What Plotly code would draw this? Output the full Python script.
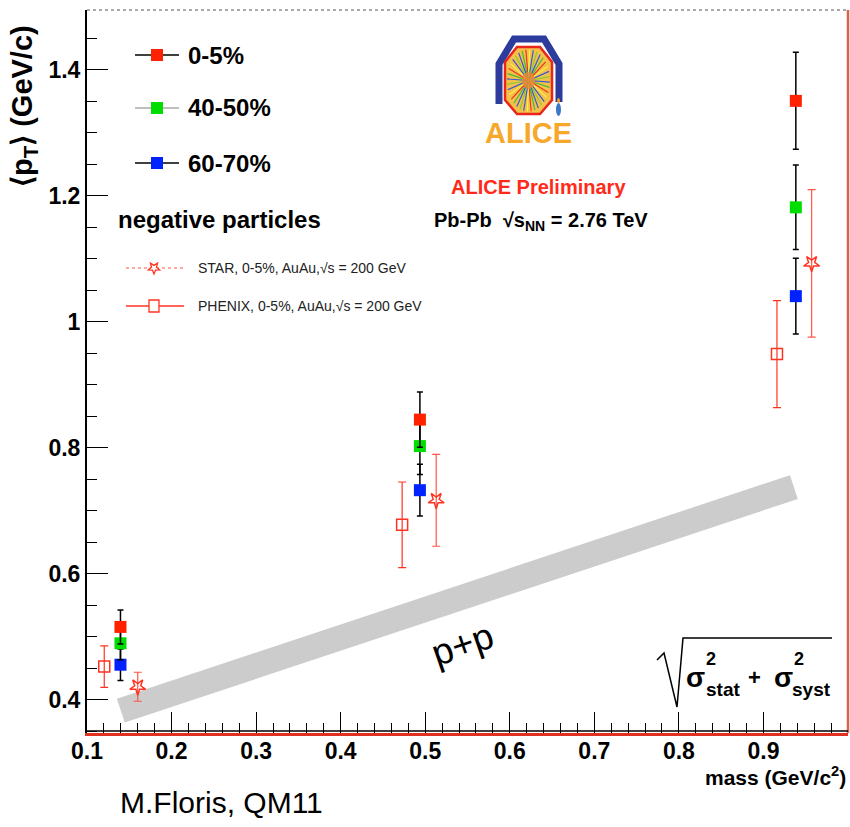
import math
import plotly.graph_objects as go

# ---------------- data ----------------
# particle masses (GeV/c^2): pi-, K-, pbar
alice_mass = [0.1396, 0.4937, 0.9383]

# ALICE Pb-Pb <pT> (GeV/c) per centrality class, with total uncertainty
pt_0_5 = [0.516, 0.845, 1.351]
err_0_5 = [0.027, 0.044, 0.077]
pt_40_50 = [0.490, 0.803, 1.182]
err_40_50 = [0.026, 0.045, 0.067]
pt_60_70 = [0.456, 0.733, 1.041]
err_60_70 = [0.025, 0.041, 0.060]

# RHIC Au-Au 0-5% references (plotted slightly displaced in mass)
phenix_mass = [0.1204, 0.4727, 0.916]
phenix_pt = [0.453, 0.678, 0.949]
phenix_err = [0.033, 0.068, 0.085]
star_mass = [0.160, 0.513, 0.957]
star_pt = [0.421, 0.717, 1.093]
star_err = [0.023, 0.073, 0.117]

# p+p band end points
pp_mass = [0.140, 0.936]
pp_pt = [0.383, 0.738]

x_ticks = [0.1, 0.2, 0.3, 0.4, 0.5, 0.6, 0.7, 0.8, 0.9, 1.0]
x_ticktext = ["0.1", "0.2", "0.3", "0.4", "0.5", "0.6", "0.7", "0.8", "0.9", "1"]
y_ticks = [0.4, 0.6, 0.8, 1.0, 1.2, 1.4]
y_ticktext = ["0.4", "0.6", "0.8", "1", "1.2", "1.4"]

# ---------------- style ----------------
W, H = 850, 827
L, R, T, B = 87, 2, 10, 94
BOLD = "Liberation Sans, Arial, Helvetica, sans-serif"
REG = "Liberation Sans, Arial, Helvetica, sans-serif"
RED, GREEN, BLUE = "#ff2200", "#00dd00", "#0022ff"


def px(x):
    return (x - L) / (W - L - R)


def py(y):
    return (H - B - y) / (H - T - B)


def poly(points, close=False):
    s = "M " + " L ".join(f"{px(a):.5f},{py(b):.5f}" for a, b in points)
    return s + (" Z" if close else "")


fig = go.Figure()

# p+p reference band
fig.add_trace(go.Scatter(x=pp_mass, y=pp_pt, mode="lines",
                         line=dict(color="#cccccc", width=25),
                         hoverinfo="skip", showlegend=False))

# RHIC points
fig.add_trace(go.Scatter(
    x=phenix_mass, y=phenix_pt, mode="markers",
    marker=dict(symbol="square-open", size=11, color="#ff3322",
                line=dict(width=1.5, color="#ff3322")),
    error_y=dict(type="data", array=phenix_err, color="#ff3322",
                 thickness=1.2, width=4),
    showlegend=False))
fig.add_trace(go.Scatter(
    x=star_mass, y=star_pt, mode="markers",
    marker=dict(symbol="star-open", angle=180, size=12, color="#ff3322",
                line=dict(width=1.5, color="#ff3322")),
    error_y=dict(type="data", array=star_err, color="#ff5544",
                 thickness=1.2, width=4),
    showlegend=False))

# ALICE points
for vals, errs, col in [(pt_60_70, err_60_70, BLUE),
                        (pt_40_50, err_40_50, GREEN),
                        (pt_0_5, err_0_5, RED)]:
    fig.add_trace(go.Scatter(
        x=alice_mass, y=vals, mode="markers",
        marker=dict(symbol="square", size=12, color=col),
        error_y=dict(type="data", array=errs, color="black",
                     thickness=1.5, width=3),
        showlegend=False))

shapes = []
ann = []

# frame: dotted top, red right, red+black bottom
shapes.append(dict(type="line", xref="paper", yref="paper", x0=0, x1=1, y0=1, y1=1,
                   line=dict(color="#aaaaaa", width=2, dash="dot")))
shapes.append(dict(type="line", xref="paper", yref="paper", x0=1, x1=1, y0=0, y1=1,
                   line=dict(color="#d9604a", width=2.5)))
shapes.append(dict(type="line", xref="paper", yref="paper", x0=0, x1=1,
                   y0=py(731), y1=py(731), line=dict(color="black", width=1.5)))

# ---------------- legend ----------------
leg_rows = [("0-5%", RED, "black", 55), ("40-50%", GREEN, "#aaaaaa", 108),
            ("60-70%", BLUE, "black", 163)]
for label, col, lcol, yy in leg_rows:
    shapes.append(dict(type="line", xref="paper", yref="paper",
                       x0=px(135), x1=px(179), y0=py(yy), y1=py(yy),
                       line=dict(color=lcol, width=1.5)))
    shapes.append(dict(type="rect", xref="paper", yref="paper",
                       x0=px(151), x1=px(163), y0=py(yy - 6), y1=py(yy + 6),
                       fillcolor=col, line=dict(width=0)))
    ann.append(dict(text=label, x=px(186), y=py(yy), xanchor="left", yanchor="middle",
                    font=dict(family=BOLD, size=24, color="black", weight="bold")))

ann.append(dict(text="negative particles", x=px(116), y=py(220), xanchor="left",
                yanchor="middle",
                font=dict(family=BOLD, size=24, color="black", weight="bold")))

# STAR legend entry
shapes.append(dict(type="line", xref="paper", yref="paper", x0=px(126), x1=px(184),
                   y0=py(268), y1=py(268), line=dict(color="#ff5544", width=1, dash="dot")))
cx, cy = 154, 268
pts = []
for k in range(10):
    r = 6 if k % 2 == 0 else 2.6
    a = math.pi / 2 + k * math.pi / 5
    pts.append((cx + r * math.cos(a), cy + r * math.sin(a)))
shapes.append(dict(type="path", xref="paper", yref="paper", path=poly(pts, True),
                   fillcolor="white", line=dict(color="#ff3322", width=1.3)))
ann.append(dict(text="STAR, 0-5%, AuAu,√s = 200 GeV", x=px(196), y=py(268),
                xanchor="left", yanchor="middle",
                font=dict(family=REG, size=14, color="#222222")))

# PHENIX legend entry
shapes.append(dict(type="line", xref="paper", yref="paper", x0=px(126), x1=px(184),
                   y0=py(306), y1=py(306), line=dict(color="#ff3322", width=1.5)))
shapes.append(dict(type="rect", xref="paper", yref="paper",
                   x0=px(149), x1=px(159), y0=py(300), y1=py(312),
                   fillcolor="white", line=dict(color="#ff3322", width=1.3)))
ann.append(dict(text="PHENIX, 0-5%, AuAu,√s = 200 GeV", x=px(196), y=py(306),
                xanchor="left", yanchor="middle",
                font=dict(family=REG, size=14, color="#222222")))

# ---------------- ALICE logo ----------------
frame = [(499, 104), (499, 64), (514, 39), (544, 39), (559, 64), (559, 102)]
shapes.append(dict(type="path", xref="paper", yref="paper", path=poly(frame),
                   line=dict(color="#2d3c9c", width=7)))
octo = [(517, 47), (540, 47), (552, 62), (552, 100), (540, 114), (517, 114), (505, 100), (505, 62)]
shapes.append(dict(type="path", xref="paper", yref="paper", path=poly(octo, True),
                   fillcolor="#f3c04a", line=dict(width=0)))
ray_cols = ["#3355dd", "#44bb33", "#ee3322", "#ffee44", "#3355dd", "#88cc33"]
ocx, ocy = 528.5, 80.5
for k in range(36):
    a = 2 * math.pi * k / 36 + 0.05
    ex, ey = ocx + 21.5 * math.cos(a), ocy + 31 * math.sin(a)
    shapes.append(dict(type="line", xref="paper", yref="paper",
                       x0=px(ocx), y0=py(ocy), x1=px(ex), y1=py(ey),
                       line=dict(color=ray_cols[k % len(ray_cols)], width=1.2)))
shapes.append(dict(type="circle", xref="paper", yref="paper",
                   x0=px(522), x1=px(535), y0=py(72), y1=py(89),
                   fillcolor="#f08a30", line=dict(width=0), opacity=0.8))
shapes.append(dict(type="path", xref="paper", yref="paper", path=poly(octo, True),
                   line=dict(color="#e8261c", width=2.5)))
shapes.append(dict(type="circle", xref="paper", yref="paper",
                   x0=px(556), x1=px(561), y0=py(103), y1=py(116),
                   fillcolor="#3a78c8", line=dict(width=0)))
shapes.append(dict(type="circle", xref="paper", yref="paper",
                   x0=px(557), x1=px(560), y0=py(98), y1=py(103),
                   fillcolor="#f5a020", line=dict(width=0)))
ann.append(dict(text="ALICE", x=px(528), y=py(133), xanchor="center", yanchor="middle",
                font=dict(family=BOLD, size=29, color="#f7a82a", weight="bold")))

ann.append(dict(text="ALICE Preliminary", x=px(538), y=py(187), xanchor="center",
                yanchor="middle",
                font=dict(family=BOLD, size=20, color="#ff2a1a", weight="bold")))
ann.append(dict(text="Pb-Pb  √s<sub>NN</sub> = 2.76 TeV", x=px(541), y=py(222),
                xanchor="center", yanchor="middle",
                font=dict(family=BOLD, size=20, color="black", weight="bold")))

# ---------------- p+p label ----------------
ann.append(dict(text="p+p", x=px(462), y=py(644), xanchor="center", yanchor="middle",
                textangle=-19, font=dict(family=REG, size=37, color="black")))

# ---------------- uncertainty formula ----------------
rad = [(657, 660), (664, 653), (677, 707), (683, 638), (832, 638)]
shapes.append(dict(type="path", xref="paper", yref="paper", path=poly(rad),
                   line=dict(color="black", width=1.5)))
for txt, xx, yy, sz in [("σ", 695, 677, 28), ("2", 711, 659, 18), ("stat", 723, 689, 19),
                        ("+", 754, 677, 22), ("σ", 783, 677, 28), ("2", 799, 659, 18),
                        ("syst", 811, 689, 19)]:
    ann.append(dict(text=txt, x=px(xx), y=py(yy), xanchor="center", yanchor="middle",
                    font=dict(family=BOLD, size=sz, color="black", weight="bold")))

# ---------------- axis titles / credit ----------------
ann.append(dict(text="⟨p<sub>T</sub>⟩ (GeV/c)", x=px(24), y=py(106), xanchor="center",
                yanchor="middle", textangle=-90,
                font=dict(family=BOLD, size=29, color="black", weight="bold")))
ann.append(dict(text="mass (GeV/c<sup>2</sup>)", x=px(848), y=py(776), xanchor="right",
                yanchor="middle",
                font=dict(family=BOLD, size=21, color="black", weight="bold")))
ann.append(dict(text="M.Floris, QM11", x=px(221), y=py(802), xanchor="center",
                yanchor="middle", font=dict(family=REG, size=30, color="black")))

for a in ann:
    a.setdefault("xref", "paper")
    a.setdefault("yref", "paper")
    a["showarrow"] = False

fig.update_layout(
    width=W, height=H,
    margin=dict(l=L, r=R, t=T, b=B, pad=0),
    paper_bgcolor="white", plot_bgcolor="white",
    showlegend=False,
    shapes=shapes, annotations=ann,
    xaxis=dict(range=[0.1, 1.0], tickvals=x_ticks, ticktext=x_ticktext,
               ticks="inside", ticklen=21, tickwidth=1.3, tickcolor="black",
               minor=dict(dtick=0.02, tick0=0.1, ticks="inside", ticklen=10,
                          tickcolor="black", tickwidth=1),
               showgrid=False, zeroline=False,
               showline=True, linecolor="#e03020", linewidth=3,
               ticklabelstandoff=-5,
               tickfont=dict(family=BOLD, size=23, color="black", weight="bold")),
    yaxis=dict(range=[0.3476, 1.4952], tickvals=y_ticks, ticktext=y_ticktext,
               ticks="inside", ticklen=21, tickwidth=1.3, tickcolor="black",
               minor=dict(dtick=0.05, tick0=0.4, ticks="inside", ticklen=10,
                          tickcolor="black", tickwidth=1),
               showgrid=False, zeroline=False,
               showline=True, linecolor="black", linewidth=2,
               tickfont=dict(family=BOLD, size=23, color="black", weight="bold")),
)

fig.write_html("out.html")
